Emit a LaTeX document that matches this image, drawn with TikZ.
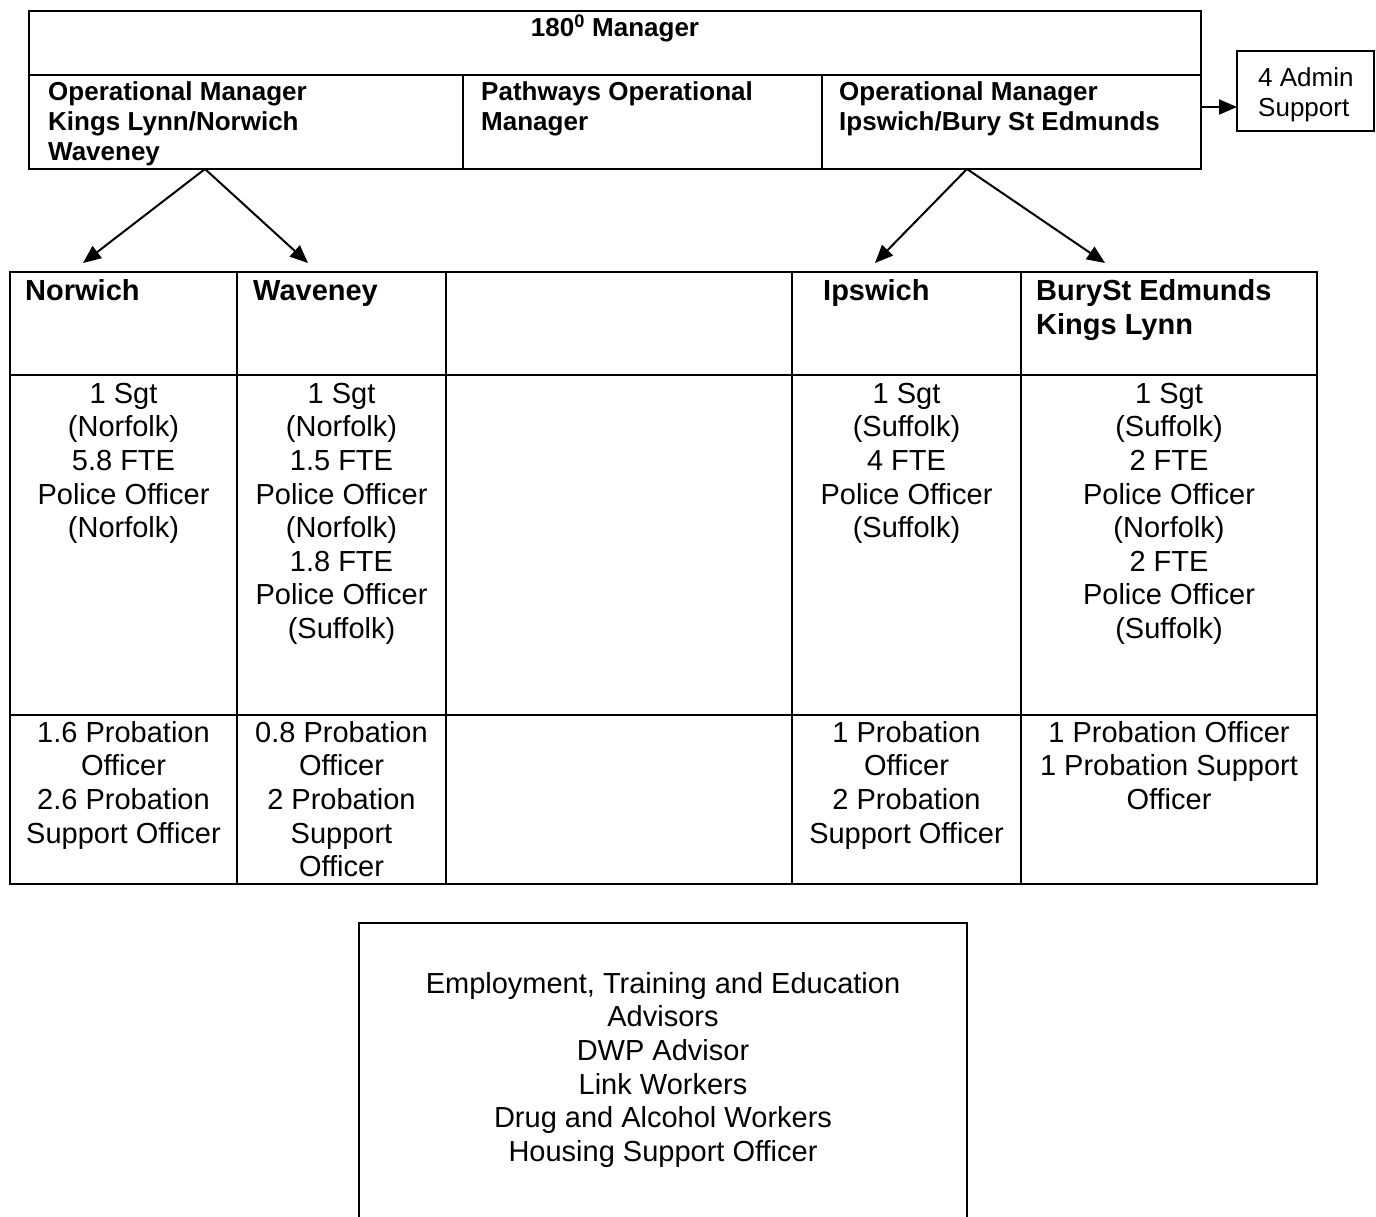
\documentclass[tikz,border=0pt]{standalone}
\usepackage{fontspec}
\setmainfont{Liberation Sans}
\usetikzlibrary{arrows.meta,calc}
\newcommand{\sA}{\rule{0pt}{22pt}}
\newcommand{\sB}{\rule{0pt}{24pt}}
\begin{document}
\begin{tikzpicture}[x=1pt,y=-1pt,
  cell/.style={draw, line width=2pt, inner sep=0pt, outer sep=0pt, anchor=north west},
  tbold/.style={inner sep=0pt, font=\fontsize{26}{30}\selectfont\bfseries},
  tsmall/.style={inner sep=0pt, font=\fontsize{26}{30}\selectfont},
  thead/.style={inner sep=0pt, anchor=north west, align=left, font=\fontsize{29}{34}\selectfont\bfseries},
  tbody/.style={inner sep=0pt, anchor=north, align=center, font=\fontsize{29}{33.6}\selectfont},
  arr/.style={line width=2pt, -{Triangle[length=18pt,width=15pt]}}]
\useasboundingbox (0,0) rectangle (1376,1217);

% top table
\node[cell, minimum width=1172pt, minimum height=64pt] (mgr) at (29,11) {};
\node[cell, minimum width=434pt, minimum height=94pt] (opA) at (29,75) {};
\node[cell, minimum width=359pt, minimum height=94pt] (opB) at (463,75) {};
\node[cell, minimum width=379pt, minimum height=94pt] (opC) at (822,75) {};
\node[cell, minimum width=137pt, minimum height=80pt] (admin) at (1237,51) {};

\node[tbold, anchor=base] (tMgr) at (615,37) {180\textsuperscript{0} Manager};
\node[tbold, anchor=north west, align=left] (tOpA) at (48,78) {\sA Operational Manager\\Kings Lynn/Norwich\\Waveney};
\node[tbold, anchor=north west, align=left] (tOpB) at (481,78) {\sA Pathways Operational\\Manager};
\node[tbold, anchor=north west, align=left] (tOpC) at (839,78) {\sA Operational Manager\\Ipswich/Bury St Edmunds};
\node[tsmall, anchor=north west, align=left] (tAdm) at (1258,64) {\sA 4 Admin\\Support};

\coordinate (admIn) at (1237,107);
\draw[arr] (opC.east |- admIn) -- (admIn);

% lower table
\node[cell, minimum width=227pt, minimum height=103pt] (hNor) at (10,272) {};
\node[cell, minimum width=209pt, minimum height=103pt] (hWav) at (237,272) {};
\node[cell, minimum width=346pt, minimum height=103pt] (hEmp) at (446,272) {};
\node[cell, minimum width=229pt, minimum height=103pt] (hIps) at (792,272) {};
\node[cell, minimum width=296pt, minimum height=103pt] (hBur) at (1021,272) {};

\node[cell, minimum width=227pt, minimum height=340pt] (sNor) at (10,375) {};
\node[cell, minimum width=209pt, minimum height=340pt] (sWav) at (237,375) {};
\node[cell, minimum width=346pt, minimum height=340pt] (sEmp) at (446,375) {};
\node[cell, minimum width=229pt, minimum height=340pt] (sIps) at (792,375) {};
\node[cell, minimum width=296pt, minimum height=340pt] (sBur) at (1021,375) {};

\node[cell, minimum width=227pt, minimum height=169pt] (pNor) at (10,715) {};
\node[cell, minimum width=209pt, minimum height=169pt] (pWav) at (237,715) {};
\node[cell, minimum width=346pt, minimum height=169pt] (pEmp) at (446,715) {};
\node[cell, minimum width=229pt, minimum height=169pt] (pIps) at (792,715) {};
\node[cell, minimum width=296pt, minimum height=169pt] (pBur) at (1021,715) {};

\node[thead] (tNor) at (25,276) {\sB Norwich};
\node[thead] (tWav) at (253,276) {\sB Waveney};
\node[thead] (tIps) at (823,276) {\sB Ipswich};
\node[thead] (tBur) at (1036,276) {\sB BurySt Edmunds\\Kings Lynn};

\node[tbody] (xNor) at (123.5,379) {\sB 1 Sgt\\(Norfolk)\\5.8 FTE\\Police Officer\\(Norfolk)};
\node[tbody] (xWav) at (341.5,379) {\sB 1 Sgt\\(Norfolk)\\1.5 FTE\\Police Officer\\(Norfolk)\\1.8 FTE\\Police Officer\\(Suffolk)};
\node[tbody] (xIps) at (906.5,379) {\sB 1 Sgt\\(Suffolk)\\4 FTE\\Police Officer\\(Suffolk)};
\node[tbody] (xBur) at (1169,379) {\sB 1 Sgt\\(Suffolk)\\2 FTE\\Police Officer\\(Norfolk)\\2 FTE\\Police Officer\\(Suffolk)};

\node[tbody] (yNor) at (123.5,718) {\sB 1.6 Probation\\Officer\\2.6 Probation\\Support Officer};
\node[tbody] (yWav) at (341.5,718) {\sB 0.8 Probation\\Officer\\2 Probation\\Support\\Officer};
\node[tbody] (yIps) at (906.5,718) {\sB 1 Probation\\Officer\\2 Probation\\Support Officer};
\node[tbody] (yBur) at (1169,718) {\sB 1 Probation Officer\\1 Probation Support\\Officer};

% arrows from managers to areas
\coordinate (aL) at (205,169);
\coordinate (aR) at (967,169);
\coordinate (tipNor) at (83,263);
\coordinate (tipWav) at (308,263);
\coordinate (tipIps) at (875,263);
\coordinate (tipBur) at (1105,263);
\draw[arr] (aL) -- (tipNor);
\draw[arr] (aL) -- (tipWav);
\draw[arr] (aR) -- (tipIps);
\draw[arr] (aR) -- (tipBur);

% bottom box (open at the bottom edge of the picture)
\coordinate (bBL) at (359,1217);
\coordinate (bTL) at (359,923);
\coordinate (bTR) at (967,923);
\coordinate (bBR) at (967,1217);
\draw[line width=2pt] (bBL) -- (bTL) -- (bTR) -- (bBR);
\node[tbody] (etb) at (663,969) {\sB Employment, Training and Education\\Advisors\\DWP Advisor\\Link Workers\\Drug and Alcohol Workers\\Housing Support Officer};
\end{tikzpicture}
\end{document}
